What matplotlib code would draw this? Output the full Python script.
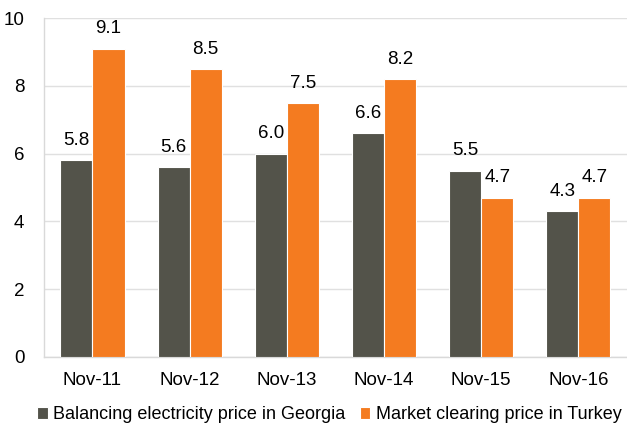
import numpy as np
import matplotlib.pyplot as plt

# Data
categories = ['Nov-11', 'Nov-12', 'Nov-13', 'Nov-14', 'Nov-15', 'Nov-16']
georgia = [5.8, 5.6, 6.0, 6.6, 5.5, 4.3]
turkey = [9.1, 8.5, 7.5, 8.2, 4.7, 4.7]
series_names = ['Balancing electricity price in Georgia', 'Market clearing price in Turkey']

plt.rcParams['font.family'] = ['Liberation Sans', 'DejaVu Sans']

fig = plt.figure(figsize=(6.27, 4.29), dpi=100)
ax = fig.add_axes([0.070, 0.168, 0.93, 0.79])

x = np.arange(len(categories))
width = 0.33
dark = '#53534A'
orange = '#F47B20'

b1 = ax.bar(x - width / 2, georgia, width, color=dark, edgecolor='white', linewidth=0.8,
            label=series_names[0], zorder=3)
b2 = ax.bar(x + width / 2, turkey, width, color=orange, edgecolor='white', linewidth=0.8,
            label=series_names[1], zorder=3)

# Value labels above each bar
for bars, vals in [(b1, georgia), (b2, turkey)]:
    for rect, v in zip(bars, vals):
        ax.text(rect.get_x() + rect.get_width() / 2, v + 0.33, f'{v:.1f}',
                ha='center', va='bottom', fontsize=13.5, color='black')

ax.set_xlim(-0.5, len(categories) - 0.5)
ax.set_ylim(0, 10)
ax.set_yticks(range(0, 11, 2))
ax.set_xticks(x)
ax.set_xticklabels(categories)
ax.tick_params(axis='both', length=0, labelsize=13.5, colors='black')
ax.tick_params(axis='y', pad=14)
ax.tick_params(axis='x', pad=11)

ax.grid(axis='y', color='#E0E0E0', linewidth=1, zorder=0)
for side in ['top', 'right']:
    ax.spines[side].set_visible(False)
ax.spines['left'].set_color('#D9D9D9')
ax.spines['bottom'].set_color('#D9D9D9')
ax.spines['left'].set_linewidth(1)
ax.spines['bottom'].set_linewidth(1)

fig.legend(handles=[b1, b2], labels=series_names, loc='lower center',
           bbox_to_anchor=(0.525, -0.025), ncol=2, frameon=False, fontsize=13,
           handlelength=0.6, handleheight=0.6, handletextpad=0.3, columnspacing=0.8)

plt.savefig('out.png', dpi=100)
